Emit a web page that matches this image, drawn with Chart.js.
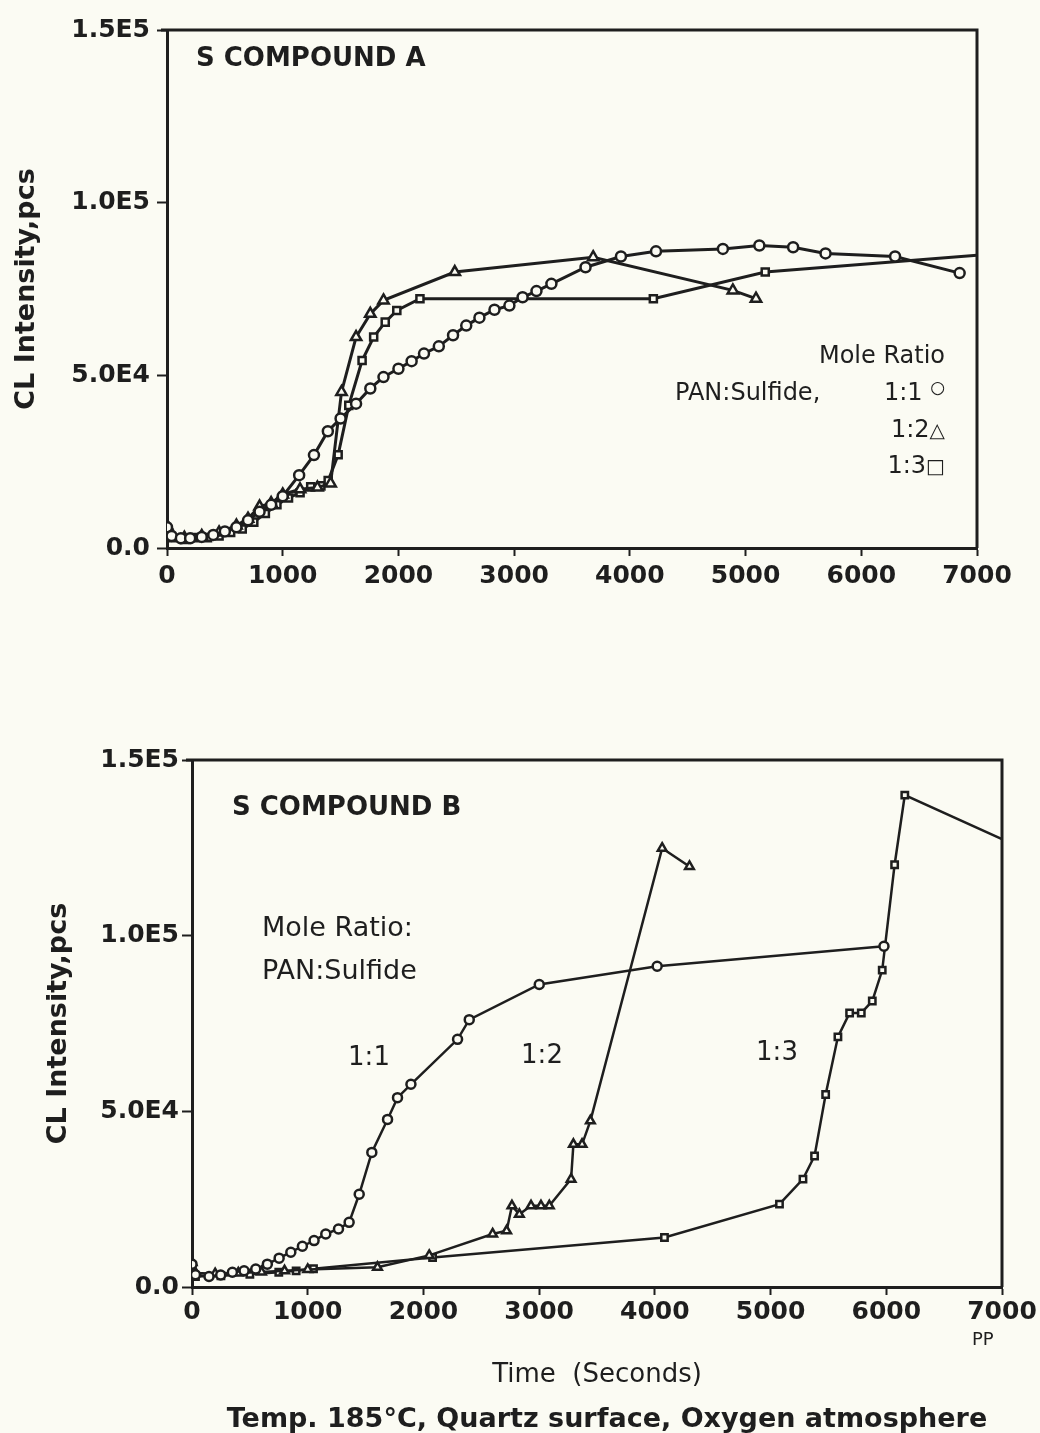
<!DOCTYPE html>
<html><head><meta charset="utf-8">
<script src="https://cdn.jsdelivr.net/npm/chart.js@4.4.1/dist/chart.umd.min.js"></script>
<style>
html,body{margin:0;padding:0;background:#fbfbf3;width:1040px;height:1433px;overflow:hidden;position:relative;font-family:"DejaVu Sans",sans-serif;color:#1e1e1e}
canvas{position:absolute;left:0}
#c1{top:0}
#c2{top:700px}
.t{position:absolute;white-space:nowrap;line-height:1;color:#1e1e1e}
.sym{font-size:20px;position:relative}
</style></head><body>
<canvas id="c1" width="1040" height="640"></canvas>
<canvas id="c2" width="1040" height="733"></canvas>

<div class="t" style="left:196px;top:44px;font-weight:bold;font-size:26px">S COMPOUND A</div>
<div class="t" style="right:95px;top:343px;font-size:24px">Mole Ratio</div>
<div class="t" style="left:675px;top:380px;font-size:24px">PAN:Sulfide,</div>
<div class="t" style="right:95px;top:380px;font-size:24px">1:1 <span class="sym" style="font-size:17px;top:-7px">○</span></div>
<div class="t" style="right:95px;top:417px;font-size:24px">1:2<span class="sym">△</span></div>
<div class="t" style="right:95px;top:453px;font-size:24px">1:3<span class="sym">□</span></div>

<div class="t" style="left:232px;top:793px;font-weight:bold;font-size:26px">S COMPOUND B</div>
<div class="t" style="left:262px;top:913px;font-size:27px">Mole Ratio:</div>
<div class="t" style="left:262px;top:956px;font-size:27px">PAN:Sulfide</div>
<div class="t" style="left:369px;top:1043px;font-size:26px;transform:translateX(-50%)">1:1</div>
<div class="t" style="left:542px;top:1041px;font-size:26px;transform:translateX(-50%)">1:2</div>
<div class="t" style="left:777px;top:1038px;font-size:26px;transform:translateX(-50%)">1:3</div>
<div class="t" style="left:972px;top:1330px;font-size:18px">PP</div>
<div class="t" style="left:607px;top:1404px;font-size:27px;font-weight:bold;transform:translateX(-50%)">Temp. 185°C, Quartz surface, Oxygen atmosphere</div>

<script>
// ---------- axis tick labels ----------
const xTickLabels = ['0','1000','2000','3000','4000','5000','6000','7000'];
const yTickLabels = ['0.0','5.0E4','1.0E5','1.5E5'];

// ---------- S COMPOUND A ----------
const A11_t = [0,40,120,200,300,400,500,600,700,800,900,1000,1142,1270,1390,1500,1634,1757,1871,2000,2114,2221,2349,2472,2586,2700,2830,2959,3073,3193,3322,3617,3923,4226,4804,5119,5411,5691,6292,6850];
const A11_v = [6000,3500,2800,2800,3200,3800,4800,6000,8000,10500,12500,15000,21100,26900,33800,37500,41800,46200,49500,51900,54100,56300,58400,61600,64400,66700,69000,70200,72600,74400,76500,81300,84400,85900,86600,87600,87100,85300,84400,79600];

const A12_t = [0,40,150,300,450,600,700,800,900,1000,1150,1300,1414,1508,1634,1757,1871,2487,3683,4890,5090];
const A12_v = [6500,4000,3000,3500,4500,6500,8500,12000,13000,15500,17000,17500,18700,45200,61100,67800,71700,79900,84200,74600,72200];

const A13_t = [0,40,150,250,350,450,550,650,750,850,950,1050,1150,1242,1330,1393,1479,1571,1686,1786,1886,1986,2186,4203,5170,7000];
const A13_v = [5500,3000,2500,3000,3000,3500,4500,5500,7500,10000,12500,14500,16000,17700,18000,19500,27000,41300,54300,61100,65400,68800,72200,72200,79900,84800];

// ---------- S COMPOUND B ----------
const B11_t = [0,30,147,248,349,450,551,651,753,854,954,1055,1156,1266,1358,1445,1554,1690,1776,1892,2295,2396,3001,4020,5980];
const B11_v = [6500,3500,3000,3400,4200,4600,5100,6500,8200,9900,11600,13200,15100,16500,18400,26400,38300,47700,53900,57700,70500,76100,86100,91300,97000];

const B12_t = [0,30,200,400,600,800,1000,1603,2050,2598,2719,2765,2829,2930,3016,3088,3276,3296,3371,3443,4063,4299];
const B12_v = [7000,4000,3800,4000,4300,4600,5000,5600,9000,15100,16000,23100,20700,23100,23100,23100,30700,40600,40600,47300,124900,119700];

const B13_t = [0,30,250,500,750,900,1050,2079,4083,5077,5280,5380,5476,5582,5683,5784,5879,5965,6072,6160,7000];
const B13_v = [6000,3000,3200,3600,4200,4600,5200,8400,14100,23600,30700,37300,54800,71200,78000,78000,81400,90200,120200,140000,127500];

// ---------- rendering ----------
const INK = '#1e1e1e';
const BG = '#fbfbf3';
const FONT = "'DejaVu Sans', sans-serif";
Chart.defaults.font.family = FONT;
Chart.defaults.color = INK;

const pts = (t, v) => t.map((x, i) => ({x: x, y: v[i]}));

const framePlugin = {
  id: 'frame',
  afterDatasetsDraw(chart) {
    const {ctx, chartArea: a} = chart;
    ctx.save();
    ctx.strokeStyle = INK;
    ctx.lineWidth = 3;
    ctx.beginPath();
    ctx.moveTo(a.left - 6, a.top);
    ctx.lineTo(a.right, a.top);
    ctx.lineTo(a.right, a.bottom);
    ctx.stroke();
    ctx.restore();
  }
};

function ds(label, t, v, style, r, lw) {
  return {
    label: label,
    data: pts(t, v),
    borderColor: INK,
    borderWidth: lw,
    pointStyle: style,
    pointRadius: (c) => (c.raw && c.raw.x >= 7000) ? 0 : r,
    pointBorderColor: INK,
    pointBackgroundColor: BG,
    pointBorderWidth: 2.5,
    tension: 0,
    fill: false
  };
}

function makeChart(id, datasets, o) {
  return new Chart(document.getElementById(id), {
    type: 'line',
    data: {datasets: datasets},
    plugins: [framePlugin],
    options: {
      responsive: false,
      animation: false,
      devicePixelRatio: 1,
      layout: {padding: {left: 0, right: o.padRight, top: o.padTop, bottom: 0}},
      plugins: {legend: {display: false}, tooltip: {enabled: false}},
      scales: {
        x: {
          type: 'linear', min: 0, max: 7000,
          afterFit: (s) => { s.height = o.xHeight; },
          border: {display: true, color: INK, width: 3},
          grid: {display: true, drawOnChartArea: false, drawTicks: true, tickLength: 8, tickColor: INK, tickWidth: 2},
          ticks: {stepSize: 1000, autoSkip: false, maxRotation: 0, padding: o.xTickPad,
                  color: INK, font: {size: 25, weight: 'bold'},
                  callback: (v) => xTickLabels[Math.round(v / 1000)]},
          title: o.xTitle ? {display: true, text: o.xTitle, color: INK,
                  font: {size: 26, weight: 'normal'}, padding: {top: 0, bottom: o.xTitlePad}} : {display: false}
        },
        y: {
          type: 'linear', min: 0, max: 150000,
          afterFit: (s) => { s.width = o.yWidth; },
          border: {display: true, color: INK, width: 3},
          grid: {display: true, drawOnChartArea: false, drawTicks: true, tickLength: 10, tickColor: INK, tickWidth: 2},
          ticks: {stepSize: 50000, padding: o.yTickPad, color: INK, font: {size: 25, weight: 'bold'},
                  callback: (v) => yTickLabels[Math.round(v / 50000)]},
          title: {display: true, text: 'CL Intensity,pcs', color: INK,
                  font: {size: 27, weight: 'bold'}, padding: {top: o.yTitlePad, bottom: 0}}
        }
      }
    }
  });
}

makeChart('c1', [
  ds('1:1', A11_t, A11_v, 'circle', 5, 3),
  ds('1:2', A12_t, A12_v, 'triangle', 6, 3),
  ds('1:3', A13_t, A13_v, 'rect', 5, 3)
], {padTop: 30, padRight: 63, yWidth: 167, xHeight: 92, xTickPad: 5, yTickPad: 7, yTitlePad: 11});

makeChart('c2', [
  ds('1:1', B11_t, B11_v, 'circle', 4.5, 2.5),
  ds('1:2', B12_t, B12_v, 'triangle', 5, 2.5),
  ds('1:3', B13_t, B13_v, 'rect', 4.5, 2.5)
], {padTop: 60, padRight: 38, yWidth: 192, xHeight: 146, xTickPad: 2, yTickPad: 3, yTitlePad: 43,
    xTitle: 'Time  (Seconds)', xTitlePad: 42});
</script>
</body></html>
